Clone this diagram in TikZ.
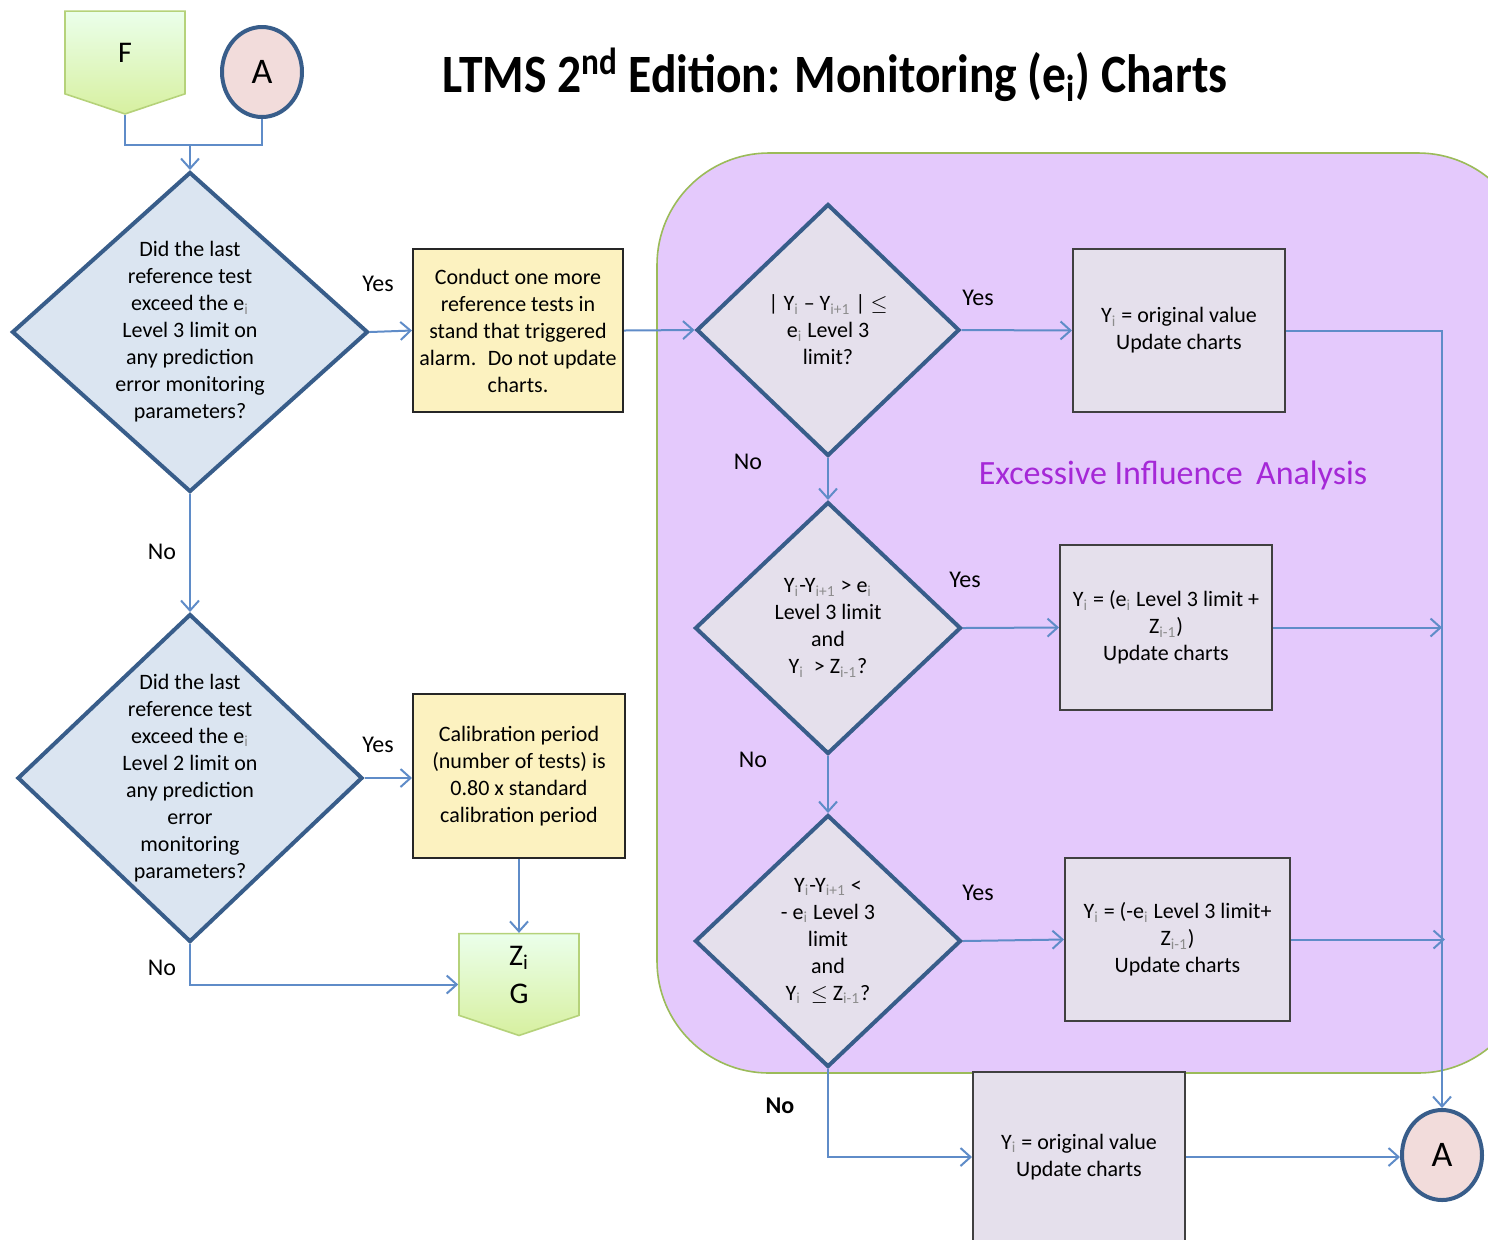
\documentclass[tikz,border=0pt]{standalone}
\usepackage{fontspec}
\setmainfont{Carlito}
\usepackage{xcolor}
\usepackage{tikz}
\usetikzlibrary{arrows.meta,positioning,shapes.geometric,shapes.symbols}
\definecolor{lineblue}{RGB}{95,140,200}
\definecolor{diaborder}{RGB}{56,93,138}
\definecolor{diafill}{RGB}{219,229,241}
\definecolor{greyfill}{RGB}{229,224,236}
\definecolor{notefill}{RGB}{252,242,192}
\definecolor{regionfill}{RGB}{228,201,252}
\definecolor{regionline}{RGB}{155,187,89}
\definecolor{pinkfill}{RGB}{242,220,219}
\definecolor{pagegreen}{RGB}{181,210,122}
\definecolor{titlepurple}{RGB}{165,40,215}
\newcommand{\lsub}[1]{\textsubscript{\color{black!45}#1}}
\tikzset{
  txt/.style={font=\fontsize{11}{13.5}\selectfont, align=center},
  decision/.style={diamond, draw=diaborder, line width=2pt, fill=diafill,
                   inner sep=-12pt, txt},
  greydecision/.style={decision, fill=greyfill},
  notebox/.style={rectangle, draw=black!85, line width=1pt, fill=notefill,
                  inner sep=2pt, txt},
  greybox/.style={notebox, draw=black!75, fill=greyfill},
  connector/.style={ellipse, draw=diaborder, line width=2pt, fill=pinkfill,
                    minimum width=40pt, minimum height=45pt,
                    font=\fontsize{18}{20}\selectfont},
  offpage/.style={signal, signal to=south, signal pointer angle=143,
                  draw=pagegreen, line width=0.8pt,
                  top color=green!8!white, bottom color={rgb,255:red,215;green,240;blue,160},
                  minimum width=60pt, minimum height=42.5pt, inner sep=0pt,
                  align=center, font=\fontsize{15}{19}\selectfont},
  arrow/.style={-{Straight Barb[length=5pt,width=9pt]}, line width=1pt, draw=lineblue},
  plain/.style={line width=1pt, draw=lineblue},
  answer/.style={font=\fontsize{12}{14}\selectfont}
}

\begin{document}
\begin{tikzpicture}[x=0.5pt, y=-0.5pt]
  \useasboundingbox (0,0) rectangle (1488,1239);

  % shaded region
  \draw[fill=regionfill, draw=regionline, line width=0.8pt, rounded corners=56pt]
    (657,153) rectangle (1530,1073);
  \node[font=\fontsize{17}{20}\selectfont, text=titlepurple] (eia) at (1173,475)
    {Excessive Influence\, Analysis};

  % title
  \node[font=\bfseries\fontsize{27}{30}\selectfont] (title) at (835,75)
    {\scalebox{0.88}[1]{LTMS 2\textsuperscript{nd} Edition: Monitoring (e\textsubscript{i}) Charts}};

  % left column
  \node[offpage] (fpage) at (125,52.5) {F};
  \node[connector] (atop) at (262,72) {A};
  \coordinate (join) at (190,145);
  \node[decision, minimum width=178pt, minimum height=160pt] (last3) at (190,332)
    {Did the last\\reference test\\exceed the e\lsub{i}\\Level 3 limit on\\any prediction\\error monitoring\\parameters?};
  \node[notebox, minimum width=105pt, minimum height=81.5pt] (retest) at (518,330.5)
    {Conduct one more\\reference tests in\\stand that triggered\\alarm.~ Do not update\\charts.};
  \node[decision, minimum width=172.5pt, minimum height=164pt] (last2) at (190,778)
    {Did the last\\reference test\\exceed the e\lsub{i}\\Level 2 limit on\\any prediction\\error\\monitoring\\parameters?};
  \node[notebox, minimum width=106pt, minimum height=82pt] (calib) at (519,776)
    {Calibration period\\(number of tests) is\\0.80 x standard\\calibration period};
  \node[offpage] (gpage) at (519,974.5) {Z\textsubscript{i}\\G};

  % right column
  \node[greydecision, minimum width=131.5pt, minimum height=126pt] (abs) at (828,330)
    {| Y\lsub{i} -- Y\lsub{i+1} | $\le$\\e\lsub{i} Level 3\\limit?};
  \node[greybox, minimum width=106pt, minimum height=81.5pt] (orig) at (1179,330.5)
    {Y\lsub{i} = original value\\Update charts};
  \node[greydecision, minimum width=133pt, minimum height=126pt] (upper) at (828,628)
    {Y\lsub{i}-Y\lsub{i+1} > e\lsub{i}\\Level 3 limit\\and\\Y\lsub{i}~ > Z\lsub{i-1}?};
  \node[greybox, minimum width=106pt, minimum height=82.5pt] (plus) at (1166,627.5)
    {Y\lsub{i} = (e\lsub{i} Level 3 limit +\\Z\lsub{i-1})\\Update charts};
  \node[greydecision, minimum width=133pt, minimum height=126pt] (lower) at (828,941)
    {Y\lsub{i}-Y\lsub{i+1} <\\- e\lsub{i} Level 3\\limit\\and\\Y\lsub{i}~ $\le$ Z\lsub{i-1}?};
  \node[greybox, minimum width=112.5pt, minimum height=81.5pt] (minus) at (1177.5,939.5)
    {Y\lsub{i} = (-e\lsub{i} Level 3 limit+\\Z\lsub{i-1})\\Update charts};
  \node[greybox, minimum width=106pt, minimum height=85pt] (keep) at (1079,1157)
    {Y\lsub{i} = original value\\Update charts};
  \node[connector] (abot) at (1442,1155) {A};

  % answers
  \node[answer] (y1) at (378,284) {Yes};
  \node[answer] (n1) at (162,552) {No};
  \node[answer] (y2) at (378,745) {Yes};
  \node[answer] (n2) at (162,968) {No};
  \node[answer] (y3) at (978,298) {Yes};
  \node[answer] (n3) at (748,462) {No};
  \node[answer] (y4) at (965,580) {Yes};
  \node[answer] (n4) at (753,760) {No};
  \node[answer] (y5) at (978,893) {Yes};
  \node[answer, font=\bfseries\fontsize{12}{14}\selectfont] (n5) at (780,1106) {No};

  % connectors
  \draw[plain] (fpage.south) |- (join);
  \draw[plain] (atop.south) |- (join);
  \draw[arrow] (join) -- (last3.north);
  \draw[arrow] (last3.east) -- (retest.west);
  \draw[arrow] (retest.east) -- (abs.west);
  \draw[arrow] (last3.south) -- (last2.north);
  \draw[arrow] (last2.east) -- (last2.east -| calib.west);
  \draw[arrow] (calib.south) -- (gpage.north);
  \draw[arrow] (last2.south) |- ([yshift=-5pt]gpage.west);
  \draw[arrow] (abs.east) -- (orig.west);
  \draw[arrow] (abs.south) -- (upper.north);
  \draw[arrow] (upper.east) -- (plus.west);
  \draw[arrow] (upper.south) -- (lower.north);
  \draw[arrow] (lower.east) -- (minus.west);
  \draw[arrow] (orig.east) -| (abot.north);
  \draw[arrow] (plus.east) -- (plus.east -| abot.north);
  \draw[arrow] (minus.east) -- ([xshift=1.5pt]minus.east -| abot.north);
  \draw[arrow] (lower.south) |- (keep.west);
  \draw[arrow] (keep.east) -- (keep.east -| abot.west);
\end{tikzpicture}
\end{document}
